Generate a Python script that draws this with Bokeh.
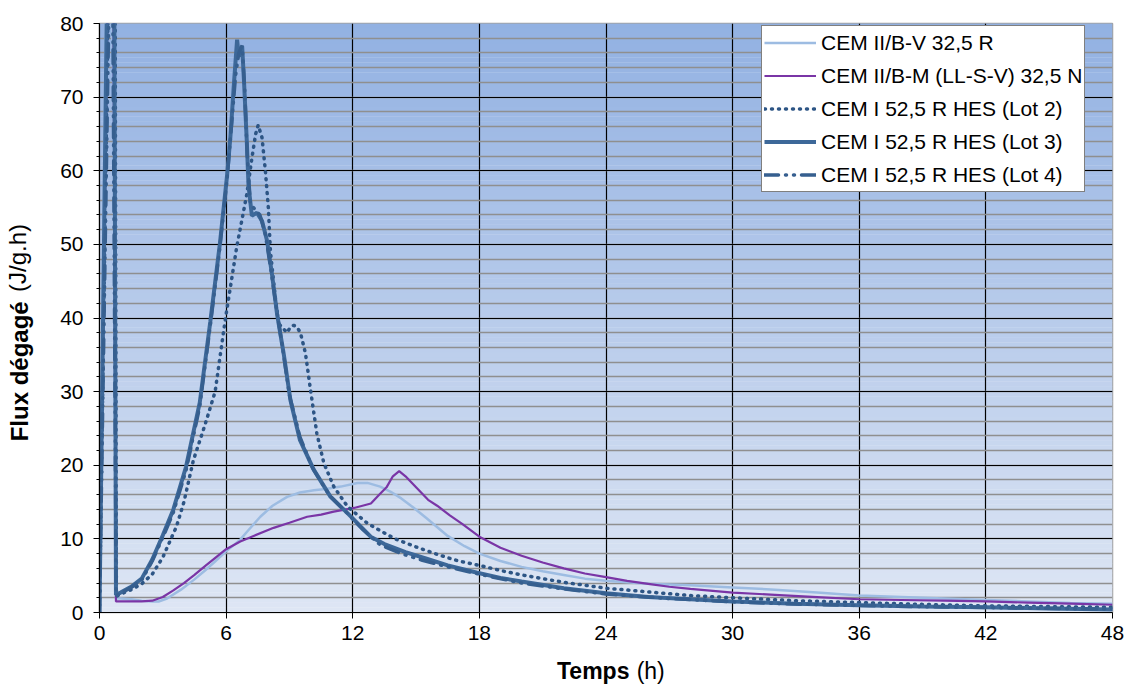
import numpy as np
from bokeh.plotting import figure
from bokeh.models import (Range1d, SingleIntervalTicker, FixedTicker, LinearAxis, Legend, LegendItem,
                          ColumnDataSource)
from bokeh.embed import file_html
from bokeh.resources import INLINE

# ---------------- data ----------------
t_b_v = [0, 0.3, 0.5, 0.68, 0.78, 1.0, 1.5, 2.0, 2.5, 2.8, 3.2, 3.86, 4.5, 5.0, 5.5, 6.0, 6.67, 7.0,
         7.62, 8.2, 8.89, 9.5, 10.16, 10.8, 11.43, 12.22, 12.7, 13.3, 13.8, 14.3, 14.9, 15.5, 16.5,
         17.3, 18, 19, 20, 21, 22, 23, 24, 25, 26, 27, 28, 30, 32, 34, 36, 38, 40, 42, 44, 46, 48]
v_b_v = [0, 82, 90, 70, 1.9, 1.9, 1.8, 1.6, 1.5, 1.5, 1.9, 3.1, 4.5, 5.7, 7.0, 8.3, 9.9, 11.0,
         13.0, 14.5, 15.7, 16.3, 16.6, 16.8, 17.1, 17.6, 17.6, 17.1, 16.4, 15.5, 14.2, 12.8, 10.4,
         9.0, 8.0, 7.0, 6.2, 5.6, 5.1, 4.6, 4.3, 4.1, 3.9, 3.8, 3.7, 3.4, 3.1, 2.7, 2.3, 2.1, 1.9, 1.7, 1.5, 1.3, 1.2]

t_b_m = [0, 0.38, 0.5, 0.66, 0.78, 1.0, 1.5, 2.0, 2.5, 3.0, 3.5, 4.0, 4.5, 5.0, 5.56, 6.0, 6.67, 7.3,
         8.25, 9.0, 9.84, 10.5, 11.1, 12.06, 12.86, 13.25, 13.6, 13.9, 14.2, 14.5, 15.0, 15.57, 16.0,
         16.6, 17.2, 18.0, 19.0, 20, 21, 22, 23, 24, 25, 26, 27, 28, 30, 32, 34, 36, 38, 40, 42, 44, 46, 48]
v_b_m = [0, 82, 90, 85, 1.5, 1.5, 1.5, 1.5, 1.6, 2.1, 3.0, 4.0, 5.1, 6.3, 7.6, 8.6, 9.65, 10.4,
         11.5, 12.2, 13.0, 13.3, 13.7, 14.2, 14.8, 16.0, 17.0, 18.5, 19.2, 18.5, 17.0, 15.3, 14.5,
         13.2, 12.0, 10.3, 8.8, 7.7, 6.8, 6.0, 5.3, 4.8, 4.3, 3.9, 3.5, 3.2, 2.7, 2.4, 2.1, 1.8, 1.7, 1.6, 1.5, 1.35, 1.2, 1.05]

t_lot2 = [0, 0.42, 0.55, 0.74, 0.8, 1.0, 1.5, 2.0, 2.5, 3.0, 3.65, 4.0, 4.45, 5.0, 5.48, 5.95, 6.5,
          6.98, 7.22, 7.4, 7.52, 7.7, 7.86, 8.0, 8.1, 8.33, 8.5, 8.89, 9.05, 9.2, 9.35, 9.52, 9.76, 10.0,
          10.3, 10.63, 11.1, 11.75, 12.7, 13.25, 14, 15, 16, 17, 18, 19, 20, 22, 24, 26, 28, 30, 33, 36,
          39, 42, 45, 48]
v_lot2 = [0, 85, 98, 85, 2.2, 2.5, 3.1, 3.9, 5.2, 7.5, 11.7, 15, 20.7, 25.5, 30, 39.6, 49.6,
          56.8, 61.7, 65, 66.2, 64.5, 60, 55, 49, 42.8, 39.2, 38.0, 38.8, 39.0, 38.8, 38, 35.2, 30.2,
          24.3, 20.3, 17.1, 14.4, 12.1, 11.2, 10.0, 8.9, 7.9, 7.0, 6.4, 5.7, 5.1, 4.1, 3.3, 2.8, 2.3, 2.0, 1.6, 1.35,
          1.1, 0.9, 0.8, 0.7]

t_lot3 = [0, 0.36, 0.5, 0.7, 0.78, 1.0, 1.5, 2.0, 2.5, 3.0, 3.5, 4.1, 4.75, 5.25, 5.7, 6.05, 6.2,
          6.35, 6.52, 6.6, 6.7, 6.76, 6.85, 6.98, 7.06, 7.22, 7.46, 7.7, 7.94, 8.17, 8.41, 8.73, 9.05,
          9.5, 10.15, 10.95, 11.75, 12.85, 13.5, 14.5, 15.5, 16.5, 17.9, 19, 20, 22, 24, 26, 28, 30, 33,
          36, 39, 42, 45, 48]
v_lot3 = [0, 85, 100, 85, 2.4, 2.7, 3.5, 4.6, 7.2, 10.5, 14.0, 19.8, 28.5, 39.5, 50, 59.5, 64.5,
          71, 77.8, 75.5, 76.5, 76.9, 72, 64, 58, 53.9, 54.3, 53.2, 50.5, 46, 40.6, 35.1, 28.8,
          23.4, 19.4, 15.7, 13.5, 10.3, 9.3, 8.2, 7.3, 6.4, 5.4, 4.7, 4.2, 3.3, 2.6, 2.1, 1.8, 1.5, 1.2,
          1.0, 0.8, 0.7, 0.55, 0.4]

t_lot4 = [0, 0.46, 0.55, 0.62, 0.79, 1.0, 1.5, 2.0, 2.5, 3.0, 3.5, 4.1, 4.75, 5.25, 5.7, 6.05, 6.25,
          6.45, 6.6, 6.76, 6.88, 7.0, 7.15, 7.35, 7.6, 7.85, 8.1, 8.4, 8.7, 9.0, 9.5, 10.1, 10.9, 11.7,
          12.5, 13.3, 14.3, 15.3, 16.5, 18, 20, 22, 24, 27, 30, 33, 36, 40, 44, 48]
v_lot4 = [0, 85, 96, 88, 2.3, 2.6, 3.4, 4.4, 7.0, 10.2, 13.6, 19.3, 28.0, 39.0, 49.5, 59, 66,
          73, 76, 77.0, 71, 62, 55.5, 54.8, 54.0, 51.5, 47, 41, 35.5, 29.5, 23.8, 19.6, 15.9, 13.6,
          11.2, 9.2, 8.0, 7.1, 6.2, 5.2, 4.0, 3.2, 2.5, 1.9, 1.45, 1.15, 0.95, 0.75, 0.6, 0.45]

series_labels = ["CEM II/B-V 32,5 R", "CEM II/B-M (LL-S-V) 32,5 N", "CEM I 52,5 R HES (Lot 2)",
                 "CEM I 52,5 R HES (Lot 3)", "CEM I 52,5 R HES (Lot 4)"]

x_title = "Temps"
x_unit = "(h)"
y_title = "Flux dégagé"
y_unit = "(J/g.h)"

FONT = "Liberation Sans"
NB = "\u00a0"

p = figure(width=1126, height=686, x_range=Range1d(0, 48), y_range=Range1d(0, 80),
           output_backend="svg", toolbar_location=None,
           min_border_left=99, min_border_right=14, min_border_top=23, min_border_bottom=74)

p.border_fill_color = "white"
p.outline_line_color = "#a0a0a0"
p.outline_line_width = 1.5

# background vertical gradient (decoration)
top_c = np.array([146, 177, 226])
bot_c = np.array([222, 230, 244])
nb = 120
edges = np.linspace(0, 80, nb + 1)
cols = []
for i in range(nb):
    f = (i + 0.5) / nb
    c = bot_c + (top_c - bot_c) * f
    cols.append("#%02x%02x%02x" % tuple(int(round(v)) for v in c))
bg = ColumnDataSource(dict(b=list(edges[:-1]), t=list(edges[1:] + 0.05), c=cols))
p.quad(left=0, right=48, bottom="b", top="t", fill_color="c", line_color=None, source=bg, level="image")

# ticks / grids
xt = SingleIntervalTicker(interval=6, num_minor_ticks=0)
yt = SingleIntervalTicker(interval=10, num_minor_ticks=5)
p.xaxis.ticker = xt
p.yaxis.ticker = yt
p.xgrid.ticker = xt
p.ygrid.ticker = yt
p.xgrid.grid_line_color = "black"
p.xgrid.grid_line_width = 1.2
p.ygrid.grid_line_color = "black"
p.ygrid.grid_line_width = 1.2
p.ygrid.minor_grid_line_color = "#8f8f8f"
p.ygrid.minor_grid_line_width = 1.6

for ax in (p.xaxis, p.yaxis):
    ax.axis_line_color = "black"
    ax.axis_line_width = 1.2
    ax.major_tick_line_color = "black"
    ax.major_tick_out = 6
    ax.major_tick_in = 0
    ax.major_label_text_font = FONT
    ax.major_label_text_font_size = "21px"
    ax.major_label_text_color = "black"
    ax.axis_label_text_font = FONT
    ax.axis_label_text_color = "black"
    ax.axis_label_text_font_style = "bold"
p.xaxis.minor_tick_line_color = None
p.yaxis.minor_tick_out = 3
p.yaxis.minor_tick_in = 0
p.yaxis.minor_tick_line_color = "black"
p.xaxis.major_label_standoff = 7
p.yaxis.major_label_standoff = 10

# axis titles: bold part on the main axes, normal part on label-only axes laid over them
p.xaxis.axis_label = x_title + NB * 4
p.xaxis.axis_label_text_font_size = "23px"
p.xaxis.axis_label_standoff = 15
p.yaxis.axis_label = y_title + NB * 16
p.yaxis.axis_label_text_font_size = "24px"
p.yaxis.axis_label_standoff = 24


def label_axis(text, size, standoff):
    a = LinearAxis(ticker=FixedTicker(ticks=[]), axis_line_color=None, major_tick_line_color=None,
                   minor_tick_line_color=None, major_tick_out=0, minor_tick_out=0, major_label_standoff=0,
                   axis_label=text, axis_label_text_font=FONT, axis_label_text_font_size=size,
                   axis_label_text_font_style="normal", axis_label_text_color="black",
                   axis_label_standoff=standoff)
    return a


p.add_layout(label_axis(NB * 14 + x_unit, "23px", -29), "below")
p.add_layout(label_axis(NB * 18 + y_unit, "24px", -27), "left")

# series
r1 = p.line(t_b_v, v_b_v, line_color="#9dbce2", line_width=2.5)
r2 = p.line(t_b_m, v_b_m, line_color="#7a35a6", line_width=2.2)
r3 = p.line(t_lot2, v_lot2, line_color="#2d5585", line_width=3.5, line_dash="1 6", line_cap="round")
r4 = p.line(t_lot3, v_lot3, line_color="#3d6899", line_width=4)
r5 = p.line(t_lot4, v_lot4, line_color="#365f8f", line_width=3.5, line_dash="14 7 1 7 1 7", line_cap="round")

legend = Legend(items=[LegendItem(label=l, renderers=[r]) for l, r in
                       zip(series_labels, [r1, r2, r3, r4, r5])],
                location=(662, 420))
legend.label_text_font = FONT
legend.label_text_font_size = "21px"
legend.label_text_color = "black"
legend.glyph_width = 52
legend.glyph_height = 29
legend.label_height = 29
legend.spacing = 4
legend.padding = 2
legend.label_standoff = 5
legend.margin = 0
legend.border_line_color = "black"
legend.border_line_width = 1.2
legend.background_fill_color = "white"
legend.background_fill_alpha = 1
p.add_layout(legend)

open("out.html", "w").write(file_html(p, INLINE))
